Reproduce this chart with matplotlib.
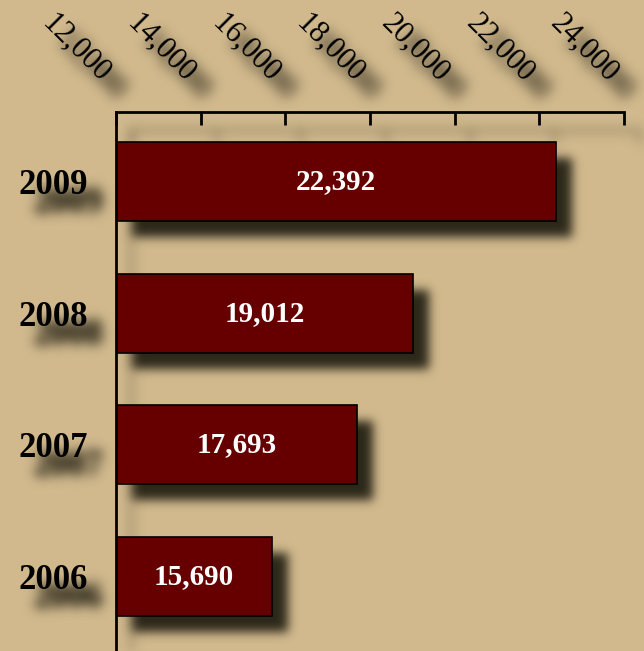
import numpy as np
import matplotlib
matplotlib.use("Agg")
import matplotlib.pyplot as plt

# ---- data ----
years = ["2006", "2007", "2008", "2009"]
values = [15690, 17693, 19012, 22392]
xticks = [12000, 14000, 16000, 18000, 20000, 22000, 24000]
xtick_labels = ["12,000", "14,000", "16,000", "18,000", "20,000", "22,000", "24,000"]

BG = "#D1B98D"
BAR = "#660000"
SHADOW = "#2b2719"
FONT = "Liberation Serif"

W, H = 644, 651
fig = plt.figure(figsize=(W / 100, H / 100), dpi=100, facecolor=BG)
POS = [116 / W, 0.0, (624 - 116) / W, 1 - 112 / H]


def blur(arr, sigma):
    r = int(np.ceil(3 * sigma))
    k = np.exp(-0.5 * (np.arange(-r, r + 1) / sigma) ** 2)
    k /= k.sum()
    ny, nx = arr.shape
    p = np.pad(arr, ((r, r), (0, 0)))
    out = np.zeros_like(arr)
    for i, w in enumerate(k):
        out += w * p[i:i + ny]
    p = np.pad(out, ((0, 0), (r, r)))
    out2 = np.zeros_like(arr)
    for i, w in enumerate(k):
        out2 += w * p[:, i:i + nx]
    return out2


class ShadowFilter:
    def __init__(self, sigma, color, gain=1.0):
        self.sigma = sigma
        self.gain = gain
        self.color = matplotlib.colors.to_rgb(color)

    def __call__(self, im, dpi):
        pad = int(np.ceil(3 * self.sigma)) + 2
        a = np.pad(im[..., 3], ((pad, pad), (pad, pad)))
        a = blur(a, self.sigma) * self.gain
        out = np.zeros(a.shape + (4,), dtype=float)
        out[..., 0] = self.color[0]
        out[..., 1] = self.color[1]
        out[..., 2] = self.color[2]
        out[..., 3] = np.clip(a, 0, 1)
        return out, -pad, -pad


ypos = np.arange(len(years))


def make_axes(dx, dy, role):
    l, b, w, h = POS
    ax = fig.add_axes([l + dx / W, b - dy / H, w, h])
    ax.set_facecolor("none")
    ax.set_xlim(xticks[0], xticks[-1])
    ax.set_ylim(-0.57, 3.53)
    for s in ("right", "bottom"):
        ax.spines[s].set_visible(False)

    text_col = "black"
    text_alpha = 1.0
    if role == "main":
        ax.barh(ypos, values, height=0.6, color=BAR, edgecolor="black", linewidth=1.2, zorder=2)
        xmin = ax.get_xlim()[0]
        for y, v in zip(ypos, values):
            ax.text((xmin + v) / 2, y, f"{v:,}", ha="center", va="center", color="white",
                    fontsize=21, fontweight="bold", family=FONT, zorder=3)
        spine_col = "black"
    elif role == "barshadow":
        ax.barh(ypos, values, height=0.6, color=SHADOW, linewidth=0)
        for s in ("top", "left"):
            ax.spines[s].set_visible(False)
        ax.set_xticks([])
        ax.set_yticks([])
        return ax
    else:  # text shadow
        text_col = SHADOW
        text_alpha = 0.9
        spine_col = (*matplotlib.colors.to_rgb(SHADOW), 0.35)

    for s in ("top", "left"):
        ax.spines[s].set_linewidth(2)
        ax.spines[s].set_color(spine_col)
    ax.xaxis.set_ticks_position("top")
    ax.set_xticks(xticks)
    ax.set_xticklabels(xtick_labels, rotation=-45, ha="right", va="bottom",
                       fontsize=22, family=FONT, color=text_col, alpha=text_alpha)
    ax.tick_params(axis="x", direction="in", length=9, width=2, pad=17, colors=spine_col)
    ax.set_yticks(ypos)
    ax.set_yticklabels(years, fontsize=25, fontweight="bold", family=FONT,
                       color=text_col, alpha=text_alpha)
    ax.tick_params(axis="y", length=0, pad=20)
    return ax


ax_bs = make_axes(16, 16, "barshadow")
ax_bs.set_agg_filter(ShadowFilter(5.0, SHADOW, gain=1.0))
ax_ts = make_axes(15, 18, "textshadow")
ax_ts.set_agg_filter(ShadowFilter(6.0, SHADOW, gain=1.6))
ax = make_axes(0, 0, "main")

fig.savefig("out.png", dpi=100, facecolor=BG)
